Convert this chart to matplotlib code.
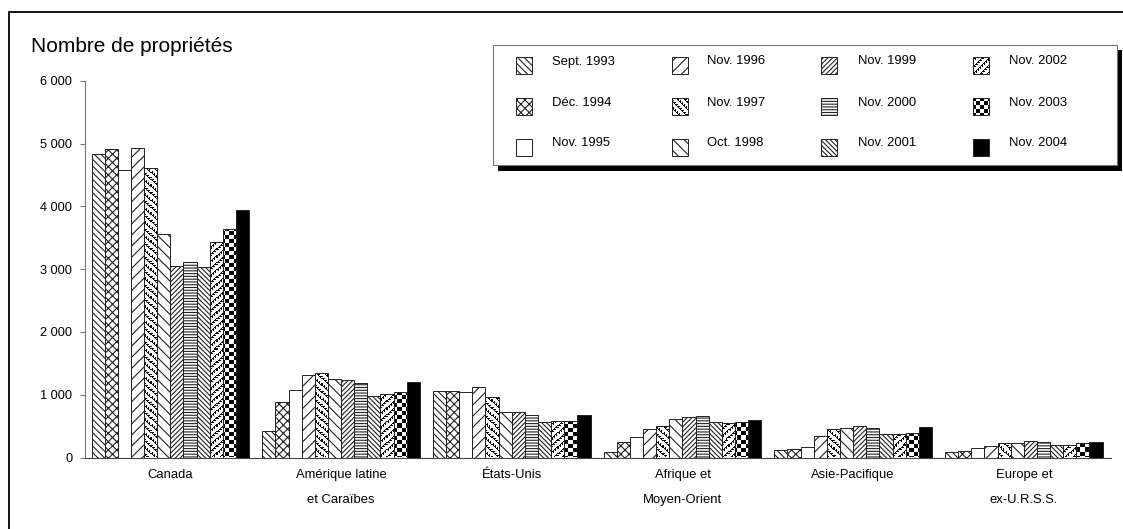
import numpy as np
import matplotlib
matplotlib.use("Agg")
import matplotlib.pyplot as plt
from matplotlib.patches import Rectangle

plt.rcParams["font.family"] = ["Liberation Sans", "DejaVu Sans"]
plt.rcParams["hatch.linewidth"] = 0.8

W, H, DPI = 1123, 529, 100

# ---- data -------------------------------------------------------------
regions = ["Canada", "Amérique latine\net Caraïbes", "États-Unis",
           "Afrique et\nMoyen-Orient", "Asie-Pacifique", "Europe et\nex-U.R.S.S."]
periods = ["Sept. 1993", "Déc. 1994", "Nov. 1995", "Nov. 1996", "Nov. 1997",
           "Oct. 1998", "Nov. 1999", "Nov. 2000", "Nov. 2001", "Nov. 2002",
           "Nov. 2003", "Nov. 2004"]

canada = [4825, 4905, 4571, 4936, 4602, 3558, 3049, 3107, 3033, 3425, 3637, 3934]
amerique_latine = [424, 880, 1082, 1315, 1347, 1251, 1235, 1188, 976, 1013, 1039, 1204]
etats_unis = [1055, 1066, 1045, 1124, 960, 732, 721, 679, 562, 583, 583, 679]
afrique_moyen_orient = [95, 249, 334, 456, 509, 615, 642, 657, 573, 546, 562, 599]
asie_pacifique = [122, 143, 170, 350, 456, 467, 498, 467, 371, 371, 392, 482]
europe_urss = [90, 106, 148, 186, 228, 228, 255, 239, 196, 207, 228, 239]

yticks = [0, 1000, 2000, 3000, 4000, 5000, 6000]
ytick_labels = ["0", "1 000", "2 000", "3 000", "4 000", "5 000", "6 000"]

# fill style of each period: plain hatch, pixel pattern or solid
fills = [("hatch", "\\" * 5), ("hatch", "x" * 4), ("hatch", ""), ("hatch", "/" * 3),
         ("pattern", "dash_back"), ("hatch", "\\" * 3), ("hatch", "/" * 7),
         ("hatch", "-" * 6), ("hatch", "\\" * 7), ("pattern", "dash_fwd"),
         ("pattern", "checker"), ("solid", "black")]

values = np.array([canada, amerique_latine, etats_unis,
                   afrique_moyen_orient, asie_pacifique, europe_urss]).T  # periods x regions

EDGE = "#222222"


def pattern_mask(kind, X, Y):
    if kind == "checker":
        return ((X // 4) + (Y // 4)) % 2 == 0
    if kind == "dash_back":
        d = (X + Y) % 7
        s = (X - Y) // 2
    else:
        d = (X - Y) % 7
        s = (X + Y) // 2
    return (d == 0) | ((d <= 2) & (s % 2 == 0))


def fill_pattern(axes, kind, x0, y0, w, h, clip):
    (px0, py0), (px1, py1) = axes.transData.transform([(x0, y0), (x0 + w, y0 + h)])
    cols = max(1, int(round(abs(px1 - px0))))
    rows = max(1, int(round(abs(py1 - py0))))
    X = int(np.floor(min(px0, px1))) + np.arange(cols)[None, :]
    Y = int(np.floor(min(py0, py1))) + np.arange(rows)[:, None]
    img = np.where(pattern_mask(kind, X, Y), 0.0, 1.0)
    im = axes.imshow(img, extent=(x0, x0 + w, y0, y0 + h), origin="lower",
                     cmap="gray", vmin=0, vmax=1, interpolation="nearest",
                     aspect="auto", zorder=1.5)
    im.set_clip_path(clip)
    return im


fig = plt.figure(figsize=(W / DPI, H / DPI), dpi=DPI)
fig.patch.set_facecolor("white")

ax = fig.add_axes([85 / W, (H - 457.5) / H, (1110.5 - 85) / W, (457.5 - 80.7) / H])
n_reg = len(regions)
n_per = len(periods)
step = n_per + 1
xmin, xmax = -0.5, 77.6
ax.set_xlim(xmin, xmax)
ax.set_ylim(0, 6000)

for k in range(n_per):
    xs = np.arange(n_reg) * step + k
    kind, spec = fills[k]
    if kind == "solid":
        ax.bar(xs, values[k], width=1, align="edge", facecolor=spec,
               edgecolor=EDGE, linewidth=0.7, zorder=2)
    elif kind == "hatch":
        ax.bar(xs, values[k], width=1, align="edge", facecolor="white",
               edgecolor=EDGE, linewidth=0.7, hatch=spec, zorder=2)
    else:
        bars = ax.bar(xs, values[k], width=1, align="edge", facecolor="white",
                      edgecolor="none", zorder=1)
        for b in bars:
            fill_pattern(ax, spec, b.get_x(), 0, b.get_width(), b.get_height(), b)
        ax.bar(xs, values[k], width=1, align="edge", fill=False,
               edgecolor=EDGE, linewidth=0.7, zorder=2)

ax.set_xlim(xmin, xmax)
ax.set_ylim(0, 6000)

ax.set_yticks(yticks, ytick_labels)
ax.tick_params(axis="y", direction="out", length=3.6, width=0.8, color="#777777",
               pad=5.5, labelsize=9.2)
ax.set_xticks([])
for side in ("top", "right"):
    ax.spines[side].set_visible(False)
ax.spines["left"].set_color("#777777")
ax.spines["left"].set_linewidth(0.8)
ax.spines["bottom"].set_color("#444444")
ax.spines["bottom"].set_linewidth(0.8)
ax.patch.set_visible(False)

# category labels under each group
for i, name in enumerate(regions):
    centre = i * step + n_per / 2
    for j, line in enumerate(name.split("\n")):
        ax.annotate(line, xy=(centre, 0), xycoords=("data", "axes fraction"),
                    xytext=(0, -(17.5 + 25 * j) * 72 / DPI), textcoords="offset points",
                    ha="center", va="center", fontsize=9.4)

# ---- overlay in pixel units: frame, title, legend ----------------------
ov = fig.add_axes([0, 0, 1, 1], zorder=5)
ov.set_xlim(0, W)
ov.set_ylim(0, H)
ov.axis("off")
ov.patch.set_visible(False)

ov.add_patch(Rectangle((8.5, -30), 1300, H - 12 + 30, facecolor="none",
                       edgecolor="black", linewidth=1.3, clip_on=False))
ov.text(31, H - 47, "Nombre de propriétés", fontsize=15, ha="left", va="center")

# legend box with shadow
lx0, ly0, lx1, ly1 = 492.7, 44.7, 1116.5, 165.0
ov.add_patch(Rectangle((lx0 + 5.5, H - ly1 - 5.5), lx1 - lx0, ly1 - ly0,
                       facecolor="black", edgecolor="none", zorder=1))
ov.add_patch(Rectangle((lx0, H - ly1), lx1 - lx0, ly1 - ly0,
                       facecolor="white", edgecolor="#777777", linewidth=0.8, zorder=2))

sw_x = [516, 672, 821, 973]
tx_x = [552, 707, 858, 1009]
row_y = [61.5, 102.5, 143.5]
sw_w, sw_h = 16, 17
for k, label in enumerate(periods):
    c, r = divmod(k, 3)
    sx = sw_x[c]
    sy = H - (row_y[r] + 4) - sw_h / 2
    kind, spec = fills[k]
    if kind == "solid":
        ov.add_patch(Rectangle((sx, sy), sw_w, sw_h, facecolor=spec,
                               edgecolor=EDGE, linewidth=0.7, zorder=3))
    elif kind == "hatch":
        ov.add_patch(Rectangle((sx, sy), sw_w, sw_h, facecolor="white",
                               edgecolor=EDGE, linewidth=0.7, hatch=spec, zorder=3))
    else:
        box = Rectangle((sx, sy), sw_w, sw_h, facecolor="white", edgecolor="none", zorder=3)
        ov.add_patch(box)
        im = fill_pattern(ov, spec, sx, sy, sw_w, sw_h, box)
        im.set_zorder(3.5)
        ov.add_patch(Rectangle((sx, sy), sw_w, sw_h, fill=False,
                               edgecolor=EDGE, linewidth=0.7, zorder=4))
    ov.text(tx_x[c], H - row_y[r], label, fontsize=9.4, ha="left", va="center", zorder=4)

ov.set_xlim(0, W)
ov.set_ylim(0, H)

fig.savefig("out.png", dpi=DPI)
